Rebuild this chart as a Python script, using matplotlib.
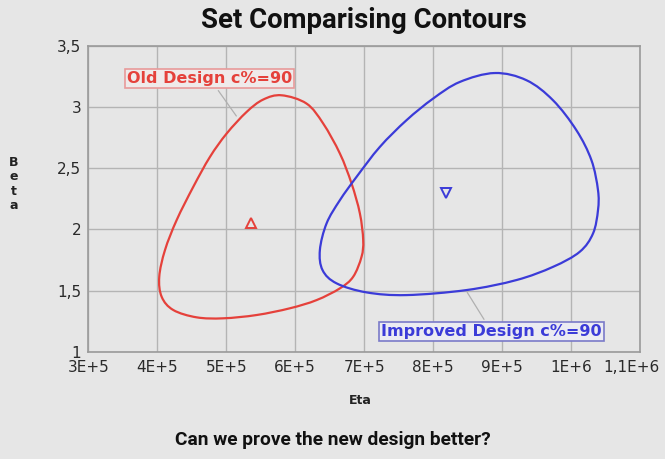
import matplotlib
matplotlib.use("Agg")
import matplotlib.pyplot as plt
from matplotlib.path import Path
from matplotlib.patches import PathPatch
from matplotlib.transforms import ScaledTranslation

# ---- data (Eta in units of 1e5, Beta) ----
old_eta = [5.803, 6.165, 6.406, 6.648, 6.817, 6.938, 6.986, 6.962, 6.841, 6.648,
           6.310, 5.923, 5.441, 4.957, 4.571, 4.232, 4.064, 4.029, 4.112, 4.281,
           4.522, 4.764, 5.006, 5.296, 5.536]
old_beta = [3.097, 3.029, 2.866, 2.621, 2.376, 2.131, 1.913, 1.776, 1.613, 1.518,
            1.422, 1.355, 1.300, 1.273, 1.281, 1.341, 1.449, 1.613, 1.831, 2.076,
            2.348, 2.593, 2.784, 2.961, 3.062]
new_eta = [8.894, 9.354, 9.739, 10.078, 10.296, 10.391, 10.391, 10.319, 10.126, 9.739,
           9.209, 8.484, 7.614, 7.035, 6.600, 6.397, 6.358, 6.455, 6.648, 6.890,
           7.228, 7.614, 8.000, 8.387]
new_beta = [3.279, 3.220, 3.056, 2.811, 2.566, 2.321, 2.158, 1.967, 1.817, 1.694,
            1.586, 1.504, 1.463, 1.485, 1.559, 1.667, 1.831, 2.049, 2.239, 2.430,
            2.675, 2.893, 3.070, 3.206]
old_center = (5.358, 2.054)
new_center = (8.184, 2.294)
x_ticks = [3, 4, 5, 6, 7, 8, 9, 10, 11]
x_tick_labels = ["3E+5", "4E+5", "5E+5", "6E+5", "7E+5", "8E+5", "9E+5", "1E+6", "1,1E+6"]
y_ticks = [1, 1.5, 2, 2.5, 3, 3.5]
y_tick_labels = ["1", "1,5", "2", "2,5", "3", "3,5"]
old_label = "Old Design c%=90"
new_label = "Improved Design c%=90"

scale = 1e5
RED = "#e5413b"
BLUE = "#3b3bd8"
BG = "#e6e6e6"


def closed_smooth_path(xs, ys):
    """Closed Catmull-Rom curve through the traced points, drawn as cubic Beziers."""
    pts = [(x * scale, y) for x, y in zip(xs, ys)]
    n = len(pts)
    verts = [pts[0]]
    codes = [Path.MOVETO]
    for i in range(n):
        p0, p1, p2, p3 = pts[i - 1], pts[i], pts[(i + 1) % n], pts[(i + 2) % n]
        c1 = (p1[0] + (p2[0] - p0[0]) / 6, p1[1] + (p2[1] - p0[1]) / 6)
        c2 = (p2[0] - (p3[0] - p1[0]) / 6, p2[1] - (p3[1] - p1[1]) / 6)
        verts += [c1, c2, p2]
        codes += [Path.CURVE4] * 3
    return Path(verts, codes)


fig = plt.figure(figsize=(6.65, 4.59), dpi=100, facecolor=BG)
W, H = 665, 459
left, right, top, bottom = 88.3, 640, 46, 351.7
ax = fig.add_axes([left / W, 1 - bottom / H, (right - left) / W, (bottom - top) / H])
ax.set_facecolor(BG)

ax.add_patch(PathPatch(closed_smooth_path(old_eta, old_beta), fill=False,
                       ec=RED, lw=1.6, zorder=3))
ax.add_patch(PathPatch(closed_smooth_path(new_eta, new_beta), fill=False,
                       ec=BLUE, lw=1.6, zorder=3))
ax.plot([old_center[0] * scale], [old_center[1]], marker="^", ms=7, mfc="none",
        mec=RED, mew=1.4, ls="none", zorder=4)
ax.plot([new_center[0] * scale], [new_center[1]], marker="v", ms=7, mfc="none",
        mec=BLUE, mew=1.4, ls="none", zorder=4)

ax.set_xlim(3 * scale, 11 * scale)
ax.set_ylim(1, 3.5)
ax.set_xticks([t * scale for t in x_ticks])
ax.set_xticklabels(x_tick_labels)
ax.set_yticks(y_ticks)
ax.set_yticklabels(y_tick_labels)
ax.grid(True, color="#b4b4b4", lw=1.0, zorder=0)
ax.set_axisbelow(True)
for s in ax.spines.values():
    s.set_color("#9a9a9a")
    s.set_linewidth(1.2)
ax.tick_params(length=0, labelsize=11, colors="#2a2a2a", pad=6)
ax.tick_params(axis="y", pad=5)
xl = ax.get_xticklabels()
xl[-1].set_transform(xl[-1].get_transform() + ScaledTranslation(-9 / 100, 0, fig.dpi_scale_trans))

# annotations
ax.annotate(old_label, xy=(5.17 * scale, 2.909), xytext=(3.56 * scale, 3.236),
            color=RED, fontsize=11.5, fontweight="bold", family="DejaVu Sans",
            ha="left", va="center",
            bbox=dict(boxstyle="square,pad=0.12", fc="#efeaea", ec="#e89a9a", lw=1.2),
            arrowprops=dict(arrowstyle="-", color="#b0b0b0", lw=0.9), zorder=5)
ax.annotate(new_label, xy=(8.474 * scale, 1.504), xytext=(7.25 * scale, 1.163),
            color=BLUE, fontsize=11.5, fontweight="bold", family="DejaVu Sans",
            ha="left", va="center",
            bbox=dict(boxstyle="square,pad=0.12", fc="#ebebf2", ec="#7a7ac8", lw=1.2),
            arrowprops=dict(arrowstyle="-", color="#b0b0b0", lw=0.9), zorder=5)

# titles and labels
fig.text(364 / W, 1 - 21 / H, "Set Comparising Contours", ha="center", va="center",
         fontsize=19.8, fontweight="bold", family=["Roboto", "DejaVu Sans"],
         color="#111111")
fig.text(332.5 / W, 1 - 440 / H, "Can we prove the new design better?", ha="center",
         va="center", fontsize=13.8, fontweight="bold",
         family=["Roboto", "DejaVu Sans"], color="#111111")
fig.text(360 / W, 1 - 400 / H, "Eta", ha="center", va="center", fontsize=9,
         fontweight="bold", color="#222222")
fig.text(14 / W, 1 - 184 / H, "B\ne\nt\na", ha="center", va="center", fontsize=9,
         fontweight="bold", color="#222222", linespacing=1.15)

fig.savefig("out.png", dpi=100, facecolor=BG)
